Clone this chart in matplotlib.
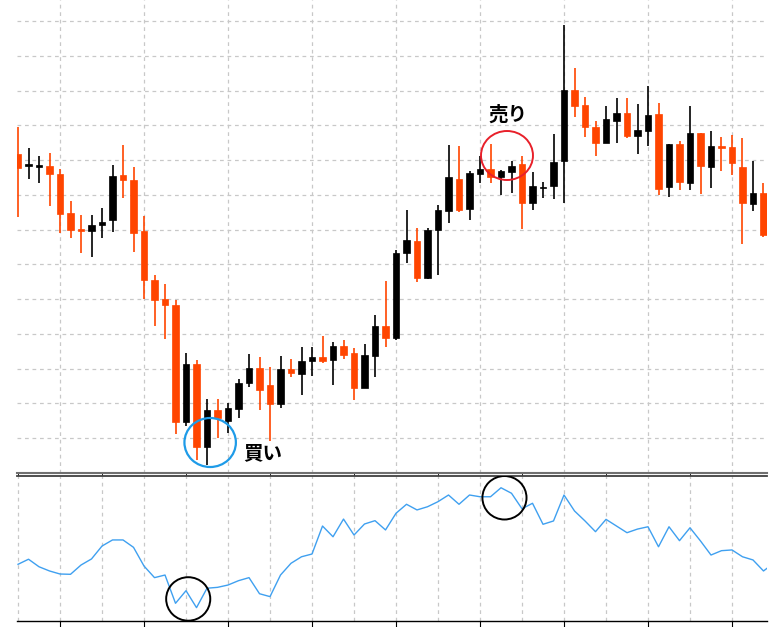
import numpy as np
import matplotlib
matplotlib.use('Agg')
import matplotlib.pyplot as plt
from matplotlib.patches import Ellipse

plt.rcParams['font.family'] = ['Noto Sans CJK JP', 'DejaVu Sans']

# OHLC
opens = [148.46, 148.34, 148.33, 148.34, 148.26, 147.87, 147.71, 147.69, 147.75, 147.80,
         148.25, 148.20, 147.69, 147.20, 147.01, 146.95, 145.78, 146.36, 145.53, 145.90,
         145.79, 145.91, 146.17, 146.32, 146.15, 145.96, 146.31, 146.26, 146.39, 146.43,
         146.40, 146.54, 146.47, 146.12, 146.44, 146.74, 146.62, 147.47, 147.59, 147.22,
         147.70, 147.89, 148.21, 147.91, 148.26, 148.31, 148.23, 148.28, 148.36, 147.97,
         148.12, 148.14, 148.39, 149.10, 148.95, 148.73, 148.57, 148.79, 148.87, 148.64,
         148.69, 148.86, 148.13, 148.56, 148.17, 148.67, 148.33, 148.54, 148.53, 148.33,
         147.96, 148.07]
highs = [148.73, 148.52, 148.44, 148.47, 148.31, 147.99, 147.85, 147.85, 147.92, 148.35,
         148.55, 148.33, 147.84, 147.25, 147.16, 147.00, 146.47, 146.40, 146.01, 146.01,
         145.97, 146.21, 146.46, 146.43, 146.33, 146.44, 146.41, 146.53, 146.53, 146.64,
         146.58, 146.60, 146.52, 146.56, 146.85, 147.19, 147.50, 147.90, 147.72, 147.72,
         147.95, 148.55, 148.54, 148.29, 148.44, 148.56, 148.30, 148.39, 148.44, 148.28,
         148.18, 148.66, 149.75, 149.32, 149.03, 148.79, 148.94, 149.02, 149.02, 148.96,
         149.14, 148.97, 148.56, 148.59, 148.94, 148.67, 148.69, 148.63, 148.65, 148.62,
         148.39, 148.17]
lows = [147.83, 148.21, 148.17, 147.94, 147.67, 147.62, 147.47, 147.43, 147.62, 147.68,
        148.02, 147.48, 147.01, 146.74, 146.61, 145.66, 145.74, 145.40, 145.35, 145.62,
        145.67, 145.82, 146.13, 145.90, 145.59, 145.92, 146.23, 146.05, 146.24, 146.37,
        146.15, 146.41, 146.00, 146.12, 146.23, 146.53, 146.60, 147.37, 147.18, 147.21,
        147.25, 147.77, 147.88, 147.80, 148.17, 148.17, 148.05, 148.07, 147.71, 147.90,
        148.02, 148.01, 147.97, 148.83, 148.63, 148.44, 148.57, 148.57, 148.62, 148.46,
        148.54, 148.05, 148.03, 148.10, 148.10, 148.06, 148.12, 148.29, 148.25, 147.56,
        147.89, 147.63]
closes = [148.32, 148.36, 148.35, 148.26, 147.86, 147.70, 147.69, 147.75, 147.78, 148.24,
          148.20, 147.67, 147.20, 147.00, 146.95, 145.78, 146.36, 145.53, 145.90, 145.82,
          145.92, 146.17, 146.32, 146.10, 145.96, 146.31, 146.27, 146.39, 146.43, 146.39,
          146.54, 146.45, 146.12, 146.45, 146.74, 146.62, 147.47, 147.60, 147.22, 147.70,
          147.90, 148.23, 147.90, 148.27, 148.31, 148.23, 148.29, 148.34, 147.97, 148.14,
          148.13, 148.38, 149.10, 148.94, 148.73, 148.57, 148.81, 148.87, 148.64, 148.70,
          148.85, 148.11, 148.56, 148.18, 148.67, 148.34, 148.54, 148.52, 148.37, 147.97,
          148.07, 147.65]

# oscillator in the sub window (one more value past the right edge)
osc = [39.1, 42.6, 37.4, 34.5, 32.4, 32.2, 38.6, 42.8, 51.7, 55.9,
       55.9, 50.8, 37.9, 29.9, 31.7, 12.2, 20.9, 9.2, 22.6, 23.2,
       24.8, 27.8, 29.9, 18.8, 16.8, 31.7, 39.8, 44.3, 46.2, 65.5,
       58.1, 70.3, 59.3, 66.9, 69.2, 62.8, 74.3, 80.5, 76.6, 78.8,
       82.3, 86.9, 80.5, 86.9, 85.7, 85.7, 91.9, 88.1, 77.4, 81.2,
       66.7, 69.0, 86.9, 75.9, 69.0, 61.6, 70.1, 65.5, 60.9, 63.4,
       65.0, 51.2, 65.0, 55.4, 64.3, 55.2, 45.5, 48.5, 49.0, 44.3,
       42.1, 34.5, 40.0]

o = np.array(opens)
h = np.array(highs)
l = np.array(lows)
c = np.array(closes)
x = np.arange(len(o))
up = c >= o

bull_col = 'black'
bear_col = '#ff4500'
grid_col = '#c8c8c8'

fig = plt.figure(figsize=(7.81, 6.27), dpi=100)
ax = fig.add_axes([0.0214, 0.2456, 0.9613, 0.7544])
ax2 = fig.add_axes([0.0214, 0.0096, 0.9613, 0.2312], sharex=ax)

# candles
cols = np.where(up, bull_col, bear_col)
ax.vlines(x, l, h, colors=cols, lw=1.2, zorder=3)
body_lo = np.minimum(o, c)
body_h = np.maximum(np.abs(c - o), 0.015)
ax.bar(x, body_h, bottom=body_lo, width=0.58, color=cols, edgecolor=cols, lw=0.5, zorder=4)

ax.set_xlim(-0.124, 71.38)
ax.set_ylim(145.27, 150.0)
ax.set_yticks(149.79 - 0.3475 * np.arange(13))
ax.set_xticks(np.arange(0, 72, 4))
ax.tick_params(length=0, labelbottom=False, labelleft=False)
ax.grid(True, color=grid_col, ls=(0, (3, 3)), lw=0.9)
for s in ['top', 'left', 'right']:
    ax.spines[s].set_visible(False)
ax.spines['bottom'].set_color('#707070')
ax.spines['bottom'].set_linewidth(1.5)

# buy / sell marks
ax.add_patch(Ellipse((18.3, 145.575), 4.9, 0.49, fill=False, ec='#1e9be8', lw=1.6, zorder=5))
ax.text(21.43, 145.46, '買い', fontsize=14, fontweight='bold', ha='left', va='center')
ax.add_patch(Ellipse((46.57, 148.445), 4.95, 0.49, fill=False, ec='#e8202a', lw=1.4, zorder=5))
ax.text(46.64, 148.85, '売り', fontsize=14, fontweight='bold', ha='center', va='center')

# sub window
ax2.plot(np.arange(len(osc)), osc, color='#3fa0f0', lw=1.0)
ax2.set_ylim(0, 100)
ax2.set_yticks([])
ax2.set_xticks(np.arange(4, 72, 8))
ax2.set_xticks(np.arange(0, 72, 4), minor=True)
ax2.tick_params(which='major', direction='out', length=4, color='black', labelbottom=False)
ax2.tick_params(which='minor', length=0)
ax2.grid(True, which='both', axis='x', color=grid_col, ls=(0, (3, 3)), lw=0.9)
for s in ['left', 'right']:
    ax2.spines[s].set_visible(False)
ax2.spines['top'].set_color('#404040')
ax2.spines['top'].set_linewidth(1.3)
ax2.spines['bottom'].set_color('black')
ax2.spines['bottom'].set_linewidth(1.0)
ax2.add_patch(Ellipse((16.21, 15.2), 4.2, 30.0, fill=False, ec='black', lw=1.4, zorder=5))
ax2.add_patch(Ellipse((46.33, 85.0), 4.2, 30.0, fill=False, ec='black', lw=1.4, zorder=5))

plt.savefig('out.png', dpi=100)
